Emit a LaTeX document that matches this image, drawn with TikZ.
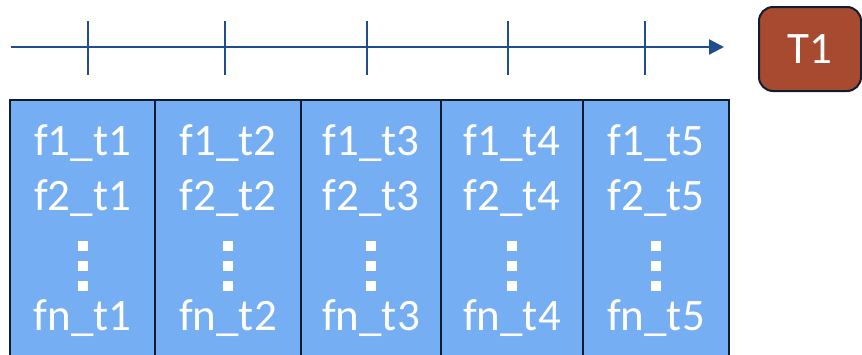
\documentclass[tikz,border=0pt]{standalone}
\usepackage{fontspec}
\setmainfont{Carlito}
\usetikzlibrary{arrows.meta}
\definecolor{navy}{HTML}{0F2847}
\definecolor{axis}{HTML}{1F4E8C}
\definecolor{cellblue}{HTML}{75AEF2}
\definecolor{rust}{HTML}{A84A2F}
\definecolor{edge}{HTML}{101C30}
\tikzset{
  cell/.style={draw=edge,line width=2pt,fill=cellblue},
  celltext/.style={text=white,font=\fontsize{45}{54}\selectfont,anchor=base,inner sep=0pt},
  tick/.style={draw=axis,line width=1.4pt},
  dotsq/.style={fill=white},
  tbox/.style={draw=edge,line width=2pt,fill=rust,rounded corners=14pt}
}
\begin{document}
\begin{tikzpicture}[x=1pt,y=-1pt]
\useasboundingbox (0,0) rectangle (862,354);
\clip (0,0) rectangle (862,354);
% timeline
\coordinate (ls) at (11,47);
\coordinate (le) at (724,47);
\draw[draw=axis,line width=2.2pt,-{Triangle[length=15pt,width=15pt]}] (ls) -- (le);
\foreach \x/\n in {88/1,225/2,367/3,508/4,645/5}{
  \coordinate (tt\n) at (\x,21);
  \coordinate (tb\n) at (\x,75);
  \draw[tick] (tt\n) -- (tb\n);
}
% T1 box
\node[tbox,minimum width=102pt,minimum height=84pt,text=white,font=\fontsize{45}{54}\selectfont] (T) at (810,49) {T1};
% columns
\foreach \l/\r/\n in {10/155/1,155/301/2,301/441/3,441/583/4,583/729/5}{
  \path[cell] (\l,100) rectangle (\r,370);
  \pgfmathsetmacro{\c}{(\l+\r)/2}
  \node[celltext] (a\n) at (\c,155) {f1\_t\n};
  \node[celltext] (b\n) at (\c,210) {f2\_t\n};
  \node[celltext] (n\n) at (\c,330) {fn\_t\n};
  \foreach \yy in {246,266,286}{
    \fill[dotsq] (\c-5,\yy-5) rectangle (\c+5,\yy+5);
  }
}
\end{tikzpicture}
\end{document}
